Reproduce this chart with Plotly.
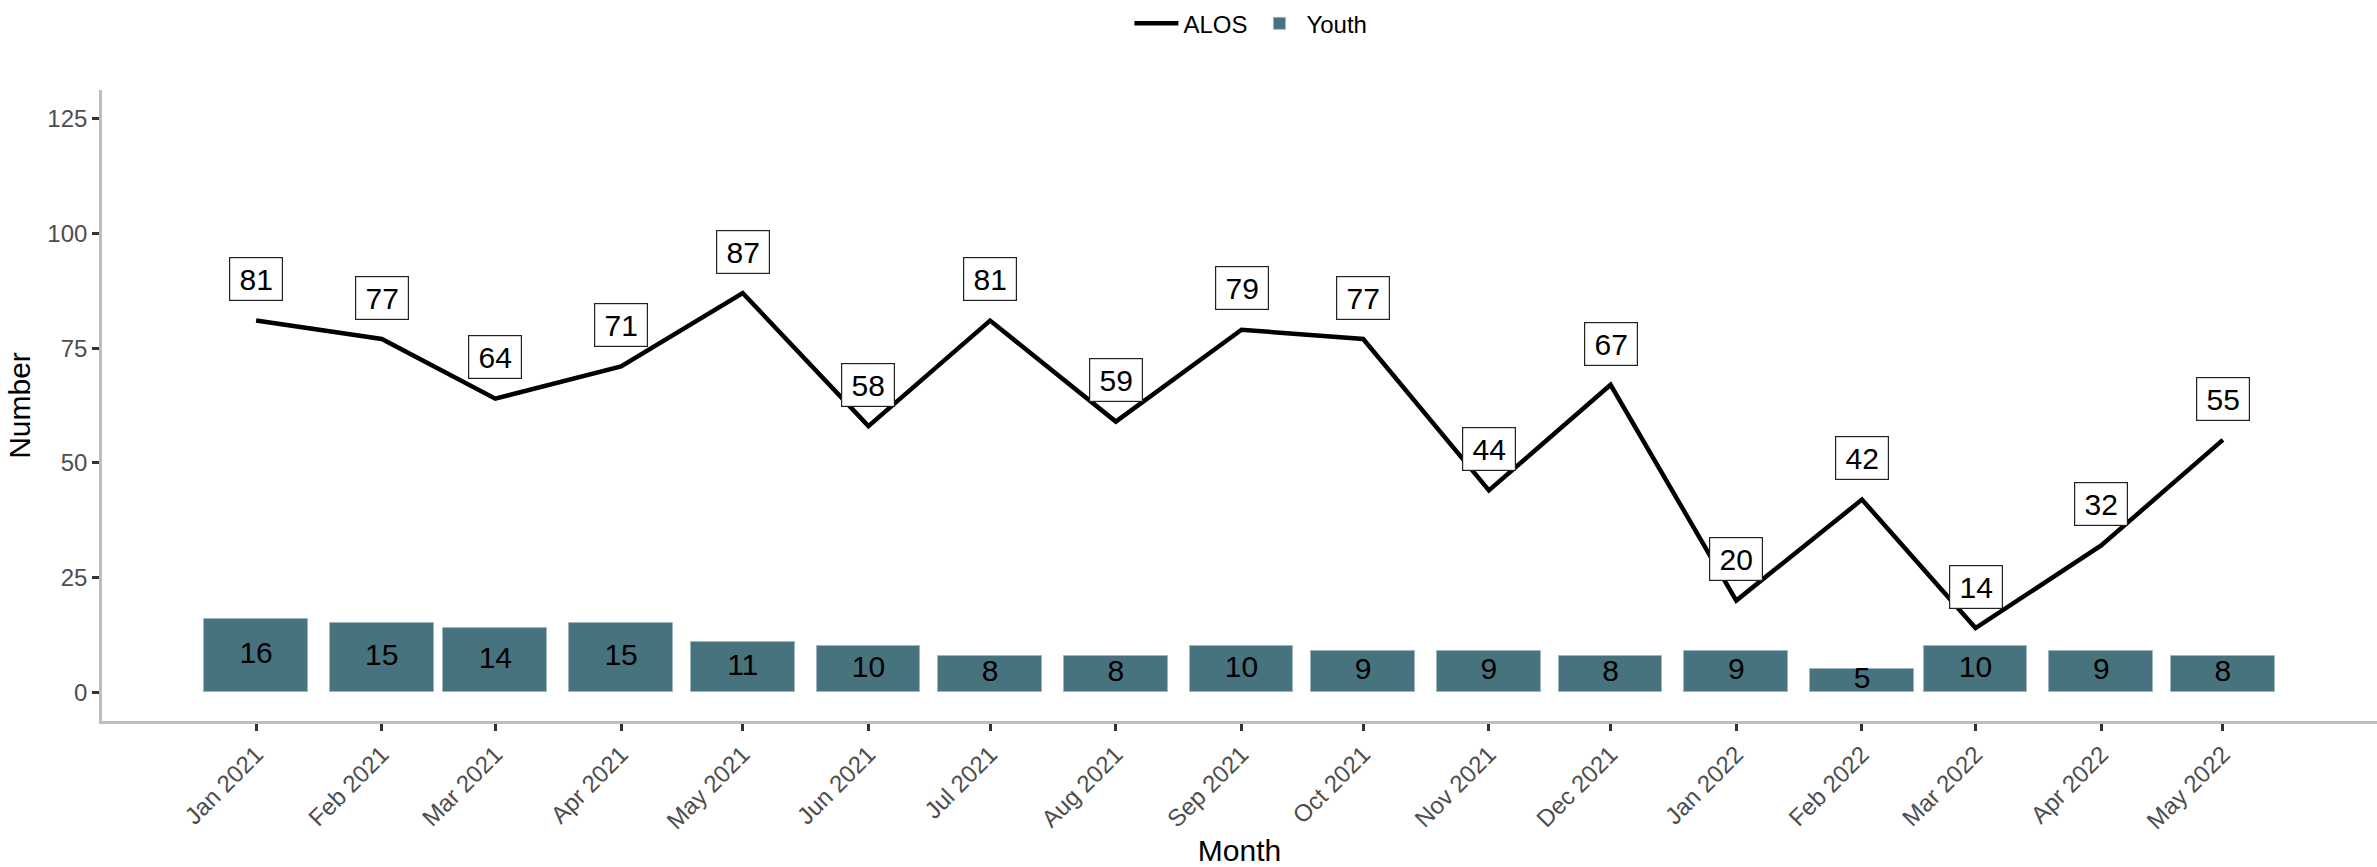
import plotly.graph_objects as go

months = ["2021-01-01", "2021-02-01", "2021-03-01", "2021-04-01", "2021-05-01",
          "2021-06-01", "2021-07-01", "2021-08-01", "2021-09-01", "2021-10-01",
          "2021-11-01", "2021-12-01", "2022-01-01", "2022-02-01", "2022-03-01",
          "2022-04-01", "2022-05-01"]
month_labels = ["Jan 2021", "Feb 2021", "Mar 2021", "Apr 2021", "May 2021",
                "Jun 2021", "Jul 2021", "Aug 2021", "Sep 2021", "Oct 2021",
                "Nov 2021", "Dec 2021", "Jan 2022", "Feb 2022", "Mar 2022",
                "Apr 2022", "May 2022"]
alos = [81, 77, 64, 71, 87, 58, 81, 59, 79, 77, 44, 67, 20, 42, 14, 32, 55]
youth = [16, 15, 14, 15, 11, 10, 8, 8, 10, 9, 9, 8, 9, 5, 10, 9, 8]
y_ticks = [0, 25, 50, 75, 100, 125]

FONT = "Liberation Sans, Arial, sans-serif"
BAR_FILL = "#47737f"
DAY_MS = 86400000
LABEL_NUDGE = 9

fig = go.Figure()

fig.add_trace(go.Scatter(
    x=months, y=alos, mode="lines", name="ALOS",
    line=dict(color="black", width=4.5),
))

fig.add_trace(go.Bar(
    x=months, y=youth, name="Youth",
    width=[25.6 * DAY_MS] * len(months),
    marker=dict(color=BAR_FILL, line=dict(color="#9fb5bd", width=1)),
))

# bar value labels, centred in each bar
fig.add_trace(go.Scatter(
    x=months, y=[v / 2 for v in youth], mode="text",
    text=[str(v) for v in youth], textposition="middle center",
    textfont=dict(family=FONT, size=30, color="black"),
    showlegend=False, hoverinfo="skip",
))

# boxed labels above the ALOS line
for m, v in zip(months, alos):
    fig.add_annotation(
        x=m, y=v + LABEL_NUDGE, text=str(v), showarrow=False,
        font=dict(family=FONT, size=30, color="black"),
        bgcolor="white", bordercolor="#222222", borderwidth=1.2,
        borderpad=1, width=50, height=40,
        xanchor="center", yanchor="middle",
    )

fig.update_layout(
    width=2377, height=867,
    paper_bgcolor="white", plot_bgcolor="white",
    margin=dict(l=102, r=0, t=90, b=146, autoexpand=False),
    font=dict(family=FONT, color="black"),
    showlegend=True,
    legend=dict(
        orientation="h", x=0.505, xanchor="center", y=1.105, yanchor="middle",
        font=dict(family=FONT, size=24, color="black"),
        itemwidth=44, bgcolor="rgba(0,0,0,0)",
    ),
    bargap=0,
)

fig.update_xaxes(
    type="date", automargin=False,
    range=["2020-11-24", "2022-06-08"],
    tickmode="array", tickvals=months, ticktext=month_labels,
    tickangle=-45,
    tickfont=dict(family=FONT, size=24, color="#4d4d4d"),
    ticks="outside", ticklen=7, tickwidth=2.5, tickcolor="#333333",
    showline=True, linecolor="#bebebe", linewidth=2.7,
    showgrid=False, zeroline=False,
    title=dict(text="Month", font=dict(family=FONT, size=30, color="black"), standoff=10),
)

fig.update_yaxes(
    automargin=False,
    range=[-6.25, 131.25],
    tickmode="array", tickvals=y_ticks, ticktext=[str(t) for t in y_ticks],
    tickfont=dict(family=FONT, size=24, color="#4d4d4d"),
    ticks="outside", ticklen=7, tickwidth=2.5, tickcolor="#333333",
    showline=True, linecolor="#bebebe", linewidth=2.7,
    showgrid=False, zeroline=False,
    title=dict(text="Number", font=dict(family=FONT, size=30, color="black"), standoff=8),
)

fig.write_html(
    "out.html",
    config={"displayModeBar": False},
    post_script="document.body.style.margin='0';document.body.style.overflow='hidden';",
)
